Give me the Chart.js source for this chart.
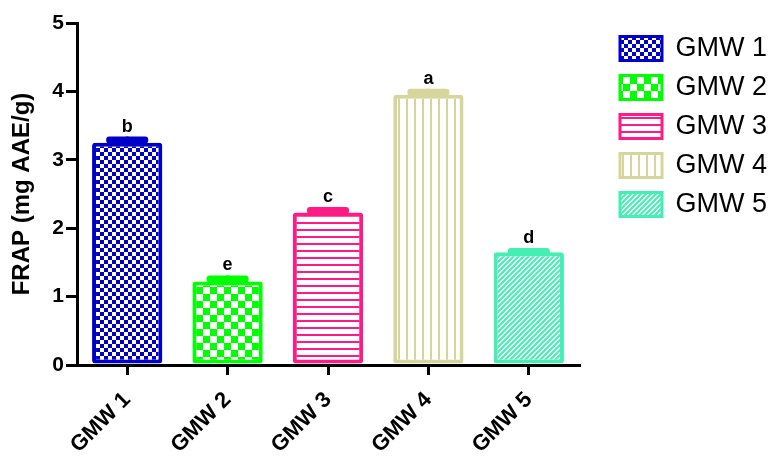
<!DOCTYPE html>
<html>
<head>
<meta charset="utf-8">
<script src="https://cdn.jsdelivr.net/npm/chart.js@4"></script>
<style>
  body { margin: 0; background: #fff; }
  #wrap { width: 777px; height: 463px; }
</style>
</head>
<body>
<div id="wrap"><canvas id="myChart" width="777" height="463"></canvas></div>
<script>
const samples = ["GMW 1", "GMW 2", "GMW 3", "GMW 4", "GMW 5"]
const frapValues = [3.25, 1.22, 2.23, 3.95, 1.65]
const frapErrors = [0.09, 0.09, 0.08, 0.09, 0.06]
const letters = ["b", "e", "c", "a", "d"]
const yTicks = [0, 1, 2, 3, 4, 5]

const colors = ["#0000C8", "#00FF00", "#FF1A86", "#D6D69C", "#45EEB2"]
const kinds = ["smallCheck", "bigCheck", "hLines", "vLines", "diag"]

function makePattern(kind, color) {
  const c = document.createElement("canvas")
  const g = c.getContext("2d")
  if (kind === "smallCheck") {
    c.width = c.height = 8
    g.fillStyle = color
    g.fillRect(0, 0, 8, 8)
    g.fillStyle = "#fff"
    g.fillRect(0, 0, 4, 4)
    g.fillRect(4, 4, 4, 4)
  } else if (kind === "bigCheck") {
    c.width = c.height = 14
    g.fillStyle = color
    g.fillRect(0, 0, 14, 14)
    g.fillStyle = "#fff"
    g.fillRect(0, 0, 7, 7)
    g.fillRect(7, 7, 7, 7)
  } else if (kind === "hLines") {
    c.width = 4
    c.height = 7
    g.fillStyle = "#fff"
    g.fillRect(0, 0, 4, 7)
    g.fillStyle = color
    g.fillRect(0, 5, 4, 2)
  } else if (kind === "vLines") {
    c.width = 8
    c.height = 4
    g.fillStyle = "#fff"
    g.fillRect(0, 0, 8, 4)
    g.fillStyle = color
    g.fillRect(6, 0, 2, 4)
  } else {
    c.width = c.height = 5
    g.fillStyle = "#fff"
    g.fillRect(0, 0, 5, 5)
    g.strokeStyle = color
    g.lineWidth = 2
    g.beginPath()
    g.moveTo(-1, 6); g.lineTo(6, -1)
    g.moveTo(-3, 3); g.lineTo(3, -3)
    g.moveTo(2, 8); g.lineTo(8, 2)
    g.stroke()
  }
  return g.createPattern(c, "repeat")
}

const patterns = colors.map((col, i) => makePattern(kinds[i], col))

const errorBars = {
  id: "errorBars",
  afterDatasetsDraw(chart) {
    const ctx = chart.ctx
    const yScale = chart.scales.y
    const meta = chart.getDatasetMeta(0)
    ctx.save()
    meta.data.forEach((bar, i) => {
      const top = yScale.getPixelForValue(frapValues[i] + frapErrors[i])
      ctx.fillStyle = colors[i]
      ctx.fillRect(bar.x - 1.5, top, 3, bar.y - top + 2)
      ctx.beginPath()
      ctx.roundRect(bar.x - 21, top, 42, 7, 3)
      ctx.fill()
      ctx.fillStyle = "#000"
      ctx.font = "bold 18px Arial, 'Liberation Sans'"
      ctx.textAlign = "center"
      ctx.textBaseline = "bottom"
      ctx.fillText(letters[i], bar.x, top - 1)
    })
    ctx.restore()
  }
}

new Chart(document.getElementById("myChart"), {
  type: "bar",
  data: {
    labels: samples,
    datasets: [{
      data: frapValues,
      yAxisID: "y",
      backgroundColor: patterns,
      borderColor: colors,
      borderWidth: 4,
      borderRadius: 3,
      borderSkipped: false,
      categoryPercentage: 1,
      barPercentage: 0.7
    }]
  },
  options: {
    responsive: false,
    animation: false,
    devicePixelRatio: 1,
    layout: { padding: { top: 23, left: 8, right: 0, bottom: 0 } },
    plugins: {
      tooltip: { enabled: false },
      legend: {
        position: "right",
        align: "start",
        maxWidth: 200,
        labels: {
          boxWidth: 42,
          boxHeight: 24,
          padding: 12,
          color: "#000",
          useBorderRadius: true,
          borderRadius: 3,
          font: { family: "Arial, 'Liberation Sans'", size: 27 },
          generateLabels: () => samples.map((s, i) => ({
            text: s,
            fillStyle: patterns[i],
            strokeStyle: colors[i],
            lineWidth: 3,
            index: i
          }))
        }
      }
    },
    scales: {
      x: {
        offset: true,
        afterFit: (axis) => { axis.height = 98 },
        grid: { display: true, drawOnChartArea: false, offset: false, color: "#000", lineWidth: 3, tickLength: 10 },
        border: { color: "#000", width: 3 },
        ticks: {
          color: "#000",
          minRotation: 45,
          maxRotation: 45,
          padding: 12,
          font: { family: "Arial, 'Liberation Sans'", size: 22, weight: "bold" }
        }
      },
      y: {
        min: 0,
        max: 5,
        afterFit: (axis) => { axis.width = 69 },
        afterBuildTicks: (axis) => { axis.ticks = yTicks.map(v => ({ value: v })) },
        grid: { display: true, drawOnChartArea: false, color: "#000", lineWidth: 3, tickLength: 11 },
        border: { color: "#000", width: 3 },
        ticks: {
          color: "#000",
          padding: 2,
          font: { family: "Arial, 'Liberation Sans'", size: 21, weight: "bold" }
        },
        title: {
          display: true,
          text: "FRAP (mg AAE/g)",
          color: "#000",
          padding: { top: 0, bottom: 2 },
          font: { family: "Arial, 'Liberation Sans'", size: 24, weight: "bold" }
        }
      },
      gap: {
        type: "linear",
        position: "right",
        afterFit: (axis) => { axis.width = 29 },
        grid: { display: false },
        border: { display: false },
        ticks: { display: false }
      }
    }
  },
  plugins: [errorBars]
})
</script>
</body>
</html>
